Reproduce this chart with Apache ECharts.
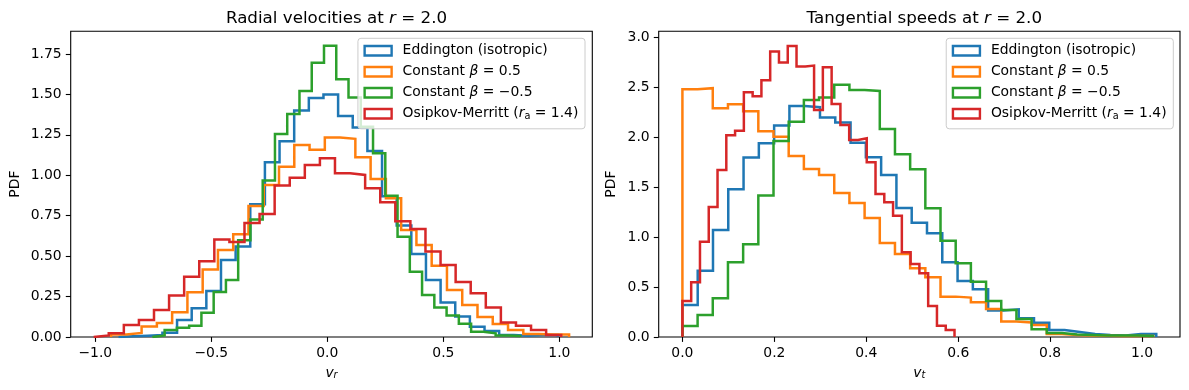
<!DOCTYPE html>
<html>
<head>
<meta charset="utf-8">
<script src="https://cdn.jsdelivr.net/npm/echarts@6/dist/echarts.min.js"></script>
<style>
html, body { margin: 0; padding: 0; background: #fff; }
#main { width: 1189px; height: 390px; }
</style>
</head>
<body>
<div id="main"></div>
<script>
// model names / colours (same order in both panels)
const modelNames = ['Eddington (isotropic)', 'Constant β = 0.5', 'Constant β = −0.5', 'Osipkov-Merritt (ra = 1.4)'];
const modelColors = ['#1f77b4', '#ff7f0e', '#2ca02c', '#d62728'];

// radial velocities at r = 2.0 : bin range of each histogram, then PDF per bin
const vrRanges = [[-0.900, 0.993], [-0.932, 1.042], [-0.754, 0.831], [-1.007, 1.008]];
const vrEdd = [0.004, 0.008, 0.012, 0.027, 0.105, 0.177, 0.284, 0.476, 0.559, 0.82, 1.08, 1.21, 1.40, 1.478, 1.50,
    1.367, 1.295, 1.15, 0.87, 0.69, 0.513, 0.353, 0.214, 0.126, 0.064, 0.037, 0.012, 0.008, 0.012, 0.012];
const vrBetaPos = [0.015, 0.025, 0.065, 0.087, 0.153, 0.276, 0.418, 0.538, 0.635, 0.81, 0.94, 1.053, 1.187, 1.158, 1.233,
    1.225, 1.111, 0.977, 0.858, 0.662, 0.569, 0.44, 0.29, 0.198, 0.124, 0.08, 0.043, 0.018, 0.015, 0.015];
const vrBetaNeg = [0.01, 0.043, 0.057, 0.07, 0.15, 0.278, 0.353, 0.598, 0.727, 0.967, 1.255, 1.379, 1.521, 1.695, 1.80,
    1.593, 1.48, 1.30, 1.136, 0.874, 0.62, 0.404, 0.26, 0.183, 0.133, 0.082, 0.033, 0.023, 0.01, 0.006];
const vrOM = [0.01, 0.023, 0.074, 0.105, 0.167, 0.256, 0.373, 0.468, 0.603, 0.588, 0.705, 0.76, 0.936, 0.985, 1.064,
    1.105, 1.012, 1.002, 0.919, 0.833, 0.715, 0.667, 0.528, 0.445, 0.34, 0.27, 0.183, 0.09, 0.07, 0.043, 0.012];

// tangential speeds at r = 2.0
const vtRanges = [[0, 1.031], [0, 1.024], [0, 1.024], [0, 0.592]];
const vtEdd = [0.32, 0.664, 1.071, 1.478, 1.795, 1.94, 2.116, 2.312, 2.30, 2.196, 2.146, 1.945, 1.798, 1.622, 1.29,
    1.144, 1.038, 0.747, 0.56, 0.477, 0.264, 0.277, 0.187, 0.143, 0.07, 0.05, 0.03, 0.02, 0.015, 0.03, 0.03];
const vtBetaPos = [2.48, 2.49, 2.29, 2.33, 2.26, 2.06, 2.005, 1.81, 1.68, 1.62, 1.44, 1.34, 1.19, 0.94, 0.83,
    0.687, 0.597, 0.404, 0.394, 0.347, 0.28, 0.155, 0.145, 0.12, 0.03, 0.02, 0.015, 0.013, 0.01, 0.01, 0.01];
const vtBetaNeg = [0.11, 0.22, 0.387, 0.747, 0.928, 1.415, 1.962, 2.155, 2.372, 2.396, 2.523, 2.472, 2.462, 2.082, 1.828,
    1.678, 1.288, 0.962, 0.737, 0.554, 0.36, 0.27, 0.18, 0.077, 0.04, 0.025, 0.02, 0.015, 0.015, 0.015, 0.01];
const vtOM = [0.36, 0.547, 0.954, 1.30, 1.672, 2.02, 2.065, 2.45, 2.41, 2.57, 2.856, 2.746, 2.913, 2.706, 2.716,
    2.272, 2.7, 2.332, 2.122, 1.972, 1.989, 1.748, 1.431, 1.348, 1.214, 0.847, 0.731, 0.637, 0.31, 0.113, 0.07];

// tick labels
const vrTicks = [-1.0, -0.5, 0.0, 0.5, 1.0];
const vrPdfTicks = [0, 0.25, 0.5, 0.75, 1.0, 1.25, 1.5, 1.75];
const vtTicks = [0, 0.2, 0.4, 0.6, 0.8, 1.0];
const vtPdfTicks = [0, 0.5, 1.0, 1.5, 2.0, 2.5, 3.0];

const font = 'DejaVu Sans';

// outline of a step histogram (histtype='step')
function stepOutline(range, heights) {
    let w = (range[1] - range[0]) / heights.length;
    let pts = [[range[0], 0]];
    heights.forEach((h, i) => {
        pts.push([range[0] + i * w, h]);
        pts.push([range[0] + (i + 1) * w, h]);
    });
    pts.push([range[1], 0]);
    return pts;
}

function histSeries(ranges, hists, idx) {
    return hists.map((heights, k) => ({
        name: modelNames[k],
        type: 'line',
        xAxisIndex: idx,
        yAxisIndex: idx,
        data: stepOutline(ranges[k], heights),
        symbol: 'none',
        silent: true,
        animation: false,
        lineStyle: { color: modelColors[k], width: 2.5, join: 'miter' },
        itemStyle: { color: modelColors[k] }
    }));
}

function fmt(v, d) {
    return v.toFixed(d).replace('-', '\u2212');
}

function valueAxis(idx, min, max, ticks, dec, extra) {
    return Object.assign({
        type: 'value',
        gridIndex: idx,
        min: min,
        max: max,
        splitLine: { show: false },
        axisLine: { show: false, onZero: false },
        axisTick: { show: true, customValues: ticks, length: 4.9, lineStyle: { color: '#000', width: 1.1 } },
        axisLabel: { customValues: ticks, formatter: v => fmt(v, dec), color: '#000', fontSize: 13.9, fontFamily: font, margin: 9 },
        nameTextStyle: { color: '#000', fontSize: 13.9, fontFamily: font }
    }, extra);
}

const mathRich = {
    n: { fontFamily: font, fontSize: 13.9, color: '#000' },
    f: { fontFamily: font, fontSize: 13.9, color: '#000', padding: [0, 0, 0, 6] },
    i: { fontFamily: font, fontSize: 13.9, color: '#000', fontStyle: 'italic' },
    s: { fontFamily: font, fontSize: 9.7, color: '#000', verticalAlign: 'bottom', lineHeight: 10 },
    si: { fontFamily: font, fontSize: 9.7, color: '#000', fontStyle: 'italic', verticalAlign: 'bottom', lineHeight: 10 }
};

const legendLabels = [
    '{f|Eddington (isotropic)}',
    '{f|Constant }{i|β}{n| = 0.5}',
    '{f|Constant }{i|β}{n| = \u22120.5}',
    '{f|Osipkov-Merritt (}{i|r}{s|a}{n| = 1.4)}'
];

function legendFor(idx, right) {
    return {
        orient: 'vertical',
        right: right,
        top: 38.3,
        selectedMode: false,
        data: modelNames.map((n, k) => ({
            name: n,
            icon: 'rect',
            itemStyle: { color: 'transparent', borderColor: modelColors[k], borderWidth: 2.4 }
        })),
        itemWidth: 27,
        itemHeight: 9.5,
        itemGap: 5,
        padding: [4.5, 6.7, 7, 5.5],
        backgroundColor: 'rgba(255,255,255,0.8)',
        borderColor: '#cccccc',
        borderWidth: 1,
        borderRadius: 3,
        formatter: name => legendLabels[modelNames.indexOf(name)],
        textStyle: { color: '#000', fontSize: 13.9, fontFamily: font, lineHeight: 16,
            rich: Object.assign({}, mathRich, { n: Object.assign({ lineHeight: 16 }, mathRich.n) }) }
    };
}

function titleFor(text, x) {
    return {
        text: text,
        left: x,
        top: 5,
        textAlign: 'center',
        textStyle: {
            color: '#000', fontSize: 16.7, fontWeight: 'normal', fontFamily: font,
            rich: {
                t: { color: '#000', fontSize: 16.7, fontFamily: font },
                i: { color: '#000', fontSize: 16.7, fontFamily: font, fontStyle: 'italic' }
            }
        }
    };
}

let options = {
    backgroundColor: '#fff',
    animation: false,
    title: [
        titleFor('{t|Radial velocities at }{i|r}{t| = 2.0}', 331.5),
        titleFor('{t|Tangential speeds at }{i|r}{t| = 2.0}', 919.3)
    ],
    legend: [legendFor(0, 604), legendFor(1, 15.7)],
    grid: [
        { left: 70.7, top: 31.3, width: 521.6, height: 305.7, show: true, borderColor: '#000', borderWidth: 1.1, backgroundColor: 'transparent' },
        { left: 658.7, top: 31.3, width: 521.3, height: 305.7, show: true, borderColor: '#000', borderWidth: 1.1, backgroundColor: 'transparent' }
    ],
    xAxis: [
        valueAxis(0, -1.106, 1.142, vrTicks, 1, {
            name: '{i|v}{si|r}', nameLocation: 'middle', nameGap: 29,
            nameTextStyle: { rich: mathRich }
        }),
        valueAxis(1, -0.0516, 1.0826, vtTicks, 1, {
            name: '{i|v}{si|t}', nameLocation: 'middle', nameGap: 29,
            nameTextStyle: { rich: mathRich }
        })
    ],
    yAxis: [
        valueAxis(0, 0, 1.89, vrPdfTicks, 2, { name: 'PDF', nameLocation: 'middle', nameRotate: 90, nameGap: 48 }),
        valueAxis(1, 0, 3.059, vtPdfTicks, 1, { name: 'PDF', nameLocation: 'middle', nameRotate: 90, nameGap: 40 })
    ],
    series: histSeries(vrRanges, [vrEdd, vrBetaPos, vrBetaNeg, vrOM], 0)
        .concat(histSeries(vtRanges, [vtEdd, vtBetaPos, vtBetaNeg, vtOM], 1))
};

let myChart = echarts.init(document.getElementById('main'), null, { renderer: 'canvas' });
myChart.setOption(options);
</script>
</body>
</html>
